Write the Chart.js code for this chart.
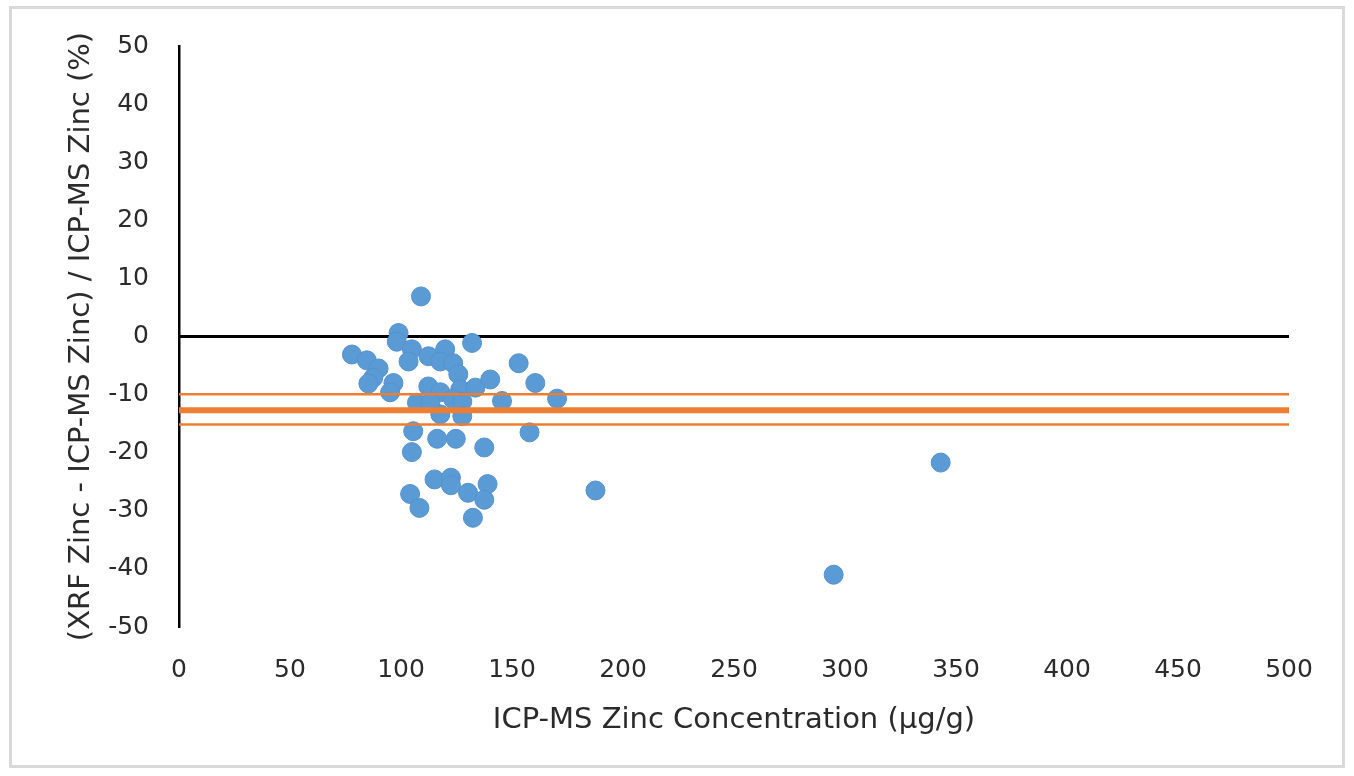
<!DOCTYPE html>
<html>
<head>
<meta charset="utf-8">
<script src="https://cdn.jsdelivr.net/npm/chart.js@4.4.1/dist/chart.umd.min.js"></script>
<style>
  html, body { margin: 0; padding: 0; background: #ffffff; }
  #wrap { position: relative; width: 1354px; height: 776px; overflow: hidden; }
  #frame { position: absolute; left: 9px; top: 6px; width: 1336px; height: 762px; border: 3px solid #d9d9d9; box-sizing: border-box; }
  canvas { position: absolute; left: 0; top: 0; }
</style>
</head>
<body>
<div id="wrap">
  <div id="frame"></div>
  <canvas id="c" width="1354" height="776"></canvas>
</div>
<script>
// ICP-MS zinc concentration (µg/g)
const icpZinc = [
  77.9, 84.6, 89.9, 87.5, 85.3, 96.6, 95.1, 98.9, 98.1, 104.9,
  103.4, 112.4, 109.0, 112.3, 107.2, 117.7, 119.9, 117.7, 123.5, 125.8,
  126.7, 132.0, 133.5, 123.5, 127.6, 140.2, 153.0, 160.5, 170.3, 145.5,
  117.7, 127.6, 105.5, 104.9, 116.3, 124.7, 137.5, 157.9, 115.1, 122.5,
  122.5, 139.0, 104.1, 108.3, 130.2, 137.5, 132.4, 187.6, 343.1, 294.9,
  113.2
];
// (XRF - ICP-MS) / ICP-MS (%)
const relDiff = [
  -3.1, -4.1, -5.5, -7.1, -8.1, -8.0, -9.6, 0.6, -0.9, -2.2,
  -4.3, -3.4, 6.9, -8.6, -11.4, -9.6, -2.2, -4.3, -4.6, -6.5,
  -9.1, -1.1, -8.8, -10.8, -11.2, -7.4, -4.6, -8.0, -10.7, -11.1,
  -13.4, -13.7, -16.3, -19.9, -17.6, -17.6, -19.1, -16.5, -24.6, -24.3,
  -25.6, -25.4, -27.1, -29.5, -26.9, -28.1, -31.2, -26.5, -21.7, -41.0,
  -11.4
];
const meanBias = -12.68;
const upperLimit = -9.93;
const lowerLimit = -15.15;
const zeroLine = 0;
const xRange = [0, 500];
const yRange = [-50, 50];
const xStep = 50;
const yStep = 10;

const FONT = "'DejaVu Sans', sans-serif";
const TEXT = '#2b2b2b';

const points = icpZinc.map((x, i) => ({ x: x, y: relDiff[i] }));
const hLine = v => xRange.map(x => ({ x: x, y: v }));

new Chart(document.getElementById('c'), {
  type: 'scatter',
  data: {
    datasets: [
      { label: 'mean', type: 'line', data: hLine(meanBias), borderColor: '#ED7D31', borderWidth: 6, pointRadius: 0, order: 0 },
      { label: 'upper', type: 'line', data: hLine(upperLimit), borderColor: '#ED7D31', borderWidth: 2.5, pointRadius: 0, order: 0 },
      { label: 'lower', type: 'line', data: hLine(lowerLimit), borderColor: '#ED7D31', borderWidth: 2.5, pointRadius: 0, order: 0 },
      { label: 'data', data: points, backgroundColor: '#5B9BD5', borderColor: '#5592CC', borderWidth: 1, pointRadius: 9.5, order: 1 },
      { label: 'zero', type: 'line', data: hLine(zeroLine), borderColor: '#000000', borderWidth: 3, pointRadius: 0, order: 2 }
    ]
  },
  options: {
    responsive: false,
    animation: false,
    layout: { padding: { left: 0, right: 65, top: 46, bottom: 0 } },
    plugins: { legend: { display: false }, tooltip: { enabled: false } },
    scales: {
      x: {
        type: 'linear',
        min: xRange[0], max: xRange[1],
        ticks: { stepSize: xStep, padding: 20, color: TEXT, font: { family: FONT, size: 25 } },
        grid: { display: false },
        border: { display: false },
        title: { display: true, text: 'ICP-MS Zinc Concentration (µg/g)', color: TEXT, font: { family: FONT, size: 29 }, padding: { top: 4, bottom: 38 } },
        afterFit: s => { s.height = 776 - 627; }
      },
      y: {
        type: 'linear',
        min: yRange[0], max: yRange[1],
        ticks: { stepSize: yStep, padding: 22, color: TEXT, font: { family: FONT, size: 25 } },
        grid: { display: false },
        border: { display: true, color: '#000000', width: 2.5 },
        title: { display: true, text: '(XRF Zinc - ICP-MS Zinc) / ICP-MS Zinc (%)', color: TEXT, font: { family: FONT, size: 29 }, padding: { top: 64, bottom: 0 } },
        afterFit: s => { s.width = 179; }
      }
    }
  }
});
</script>
</body>
</html>
